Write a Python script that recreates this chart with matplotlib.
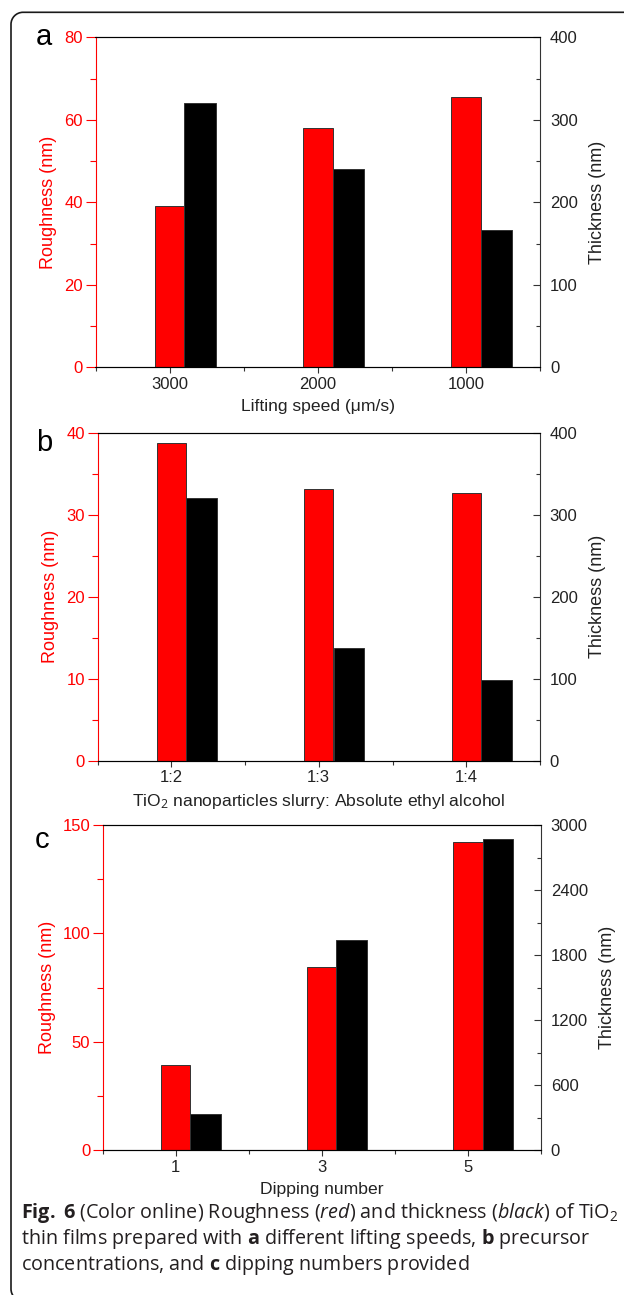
import matplotlib
matplotlib.use("Agg")
import matplotlib.pyplot as plt
import matplotlib.patches as mpatches
import matplotlib.transforms as mtransforms
from matplotlib.path import Path
from matplotlib.ticker import MultipleLocator, FixedLocator

plt.rcParams["font.family"] = ["Liberation Sans", "DejaVu Sans"]
plt.rcParams["mathtext.fontset"] = "custom"
plt.rcParams["mathtext.rm"] = "Open Sans"
plt.rcParams["mathtext.it"] = "Open Sans:italic"
plt.rcParams["mathtext.bf"] = "Open Sans:bold"

# panel a: lifting speed
speeds = ["3000", "2000", "1000"]
rough_a = [39.0, 58.0, 65.5]
thick_a = [320, 240, 167]

# panel b: slurry / ethanol ratio
ratios = ["1:2", "1:3", "1:4"]
rough_b = [38.8, 33.1, 32.7]
thick_b = [320, 138, 98]

# panel c: dipping number
dips = ["1", "3", "5"]
rough_c = [39.3, 84.7, 142.3]
thick_c = [332, 1939, 2874]

W, H = 624, 1295
fig = plt.figure(figsize=(W / 100, H / 100), dpi=100)

RED = "#ff0000"
TXT = "#222222"


def rect(l, t, r, b):
    return [l / W, 1 - b / H, (r - l) / W, (b - t) / H]


def panel(box, cats, rough, thick, rlim, rmaj, rmin, tlim, tmaj, tmin, xlabel):
    ax = fig.add_axes(rect(*box))
    x = list(range(1, len(cats) + 1))
    ax.bar(x, rough, width=0.2, color=RED, edgecolor="#333333", linewidth=0.7, zorder=2)
    ax.set_xlim(0.5, 3.5)
    ax.set_ylim(*rlim)
    ax.set_xticks(x)
    ax.set_xticklabels(cats)
    ax.xaxis.set_minor_locator(FixedLocator([0.5, 1.5, 2.5, 3.5]))
    ax.yaxis.set_major_locator(MultipleLocator(rmaj))
    ax.yaxis.set_minor_locator(MultipleLocator(rmin))
    ax.tick_params(axis="x", which="major", direction="out", length=4, width=0.8,
                   color="#333333", labelsize=12, labelcolor=TXT, pad=3)
    ax.tick_params(axis="x", which="minor", direction="out", length=3, width=0.8, color="#333333")
    ax.tick_params(axis="y", which="major", direction="out", length=7, width=0.8,
                   color=RED, labelsize=12, labelcolor=RED, pad=2)
    ax.tick_params(axis="y", which="minor", direction="out", length=4, width=0.8, color=RED)
    ax.spines["left"].set_color(RED)
    ax.spines["right"].set_visible(False)
    for s in ("top", "bottom"):
        ax.spines[s].set_color("#333333")
    for s in ax.spines.values():
        s.set_linewidth(0.8)
    ax.set_ylabel("Roughness (nm)", color=RED, fontsize=13, labelpad=5)
    ax.set_xlabel(xlabel, color=TXT, fontsize=12.6, labelpad=5)

    ax2 = ax.twinx()
    ax2.bar([v + 0.1 for v in x], thick, width=0.21, align="edge", color="black",
            edgecolor="#333333", linewidth=0.7, zorder=2)
    ax2.set_ylim(*tlim)
    ax2.yaxis.set_major_locator(MultipleLocator(tmaj))
    ax2.yaxis.set_minor_locator(MultipleLocator(tmin))
    ax2.tick_params(axis="y", which="major", direction="in", length=5, width=0.8,
                    color="#333333", labelsize=12, labelcolor=TXT, pad=7)
    ax2.tick_params(axis="y", which="minor", direction="in", length=3, width=0.8, color="#333333")
    ax2.spines["left"].set_visible(False)
    ax2.spines["right"].set_color("#333333")
    for s in ax2.spines.values():
        s.set_linewidth(0.8)
    ax2.set_ylabel("Thickness (nm)", color=TXT, fontsize=13, labelpad=8)
    return ax


pa = panel((95.5, 37.3, 540.4, 367.3), speeds, rough_a, thick_a,
           (0, 80), 20, 10, (0, 400), 100, 50, "Lifting speed (\u03bcm/s)")
pb = panel((97.5, 432.7, 540, 760.7), ratios, rough_b, thick_b,
           (0, 40), 10, 5, (0, 400), 100, 50,
           "TiO$_2$ nanoparticles slurry: Absolute ethyl alcohol")
pc = panel((102.7, 825, 541, 1150.3), dips, rough_c, thick_c,
           (0, 150), 50, 25, (0, 3000), 600, 300, "Dipping number")

# panel letters
for letter, (lx, ly) in zip("abc", [(36, 37), (36, 443), (35, 840)]):
    fig.text(lx / W, 1 - ly / H, letter, fontsize=21, color="black", ha="left", va="center")

# caption
cap = [
    r"$\mathbf{Fig.}$ $\mathbf{6}$ (Color online) Roughness ($\mathit{red}$) and thickness ($\mathit{black}$) of TiO$_2$",
    r"thin films prepared with $\mathbf{a}$ different lifting speeds, $\mathbf{b}$ precursor",
    r"concentrations, and $\mathbf{c}$ dipping numbers provided",
]
for i, line in enumerate(cap):
    fig.text(21 / W, 1 - (1213 + 26 * i) / H, line, fontsize=14.2, family="Open Sans",
             color="#231f20", ha="left", va="center")

# frame: open on the right, rounded at the left corners (pixel coords)
left, top, bottom, r = 11, H - 12.3, -6, 12
k = 0.5523 * r
verts = [(W + 10, top), (left + r, top),
         (left + r - k, top), (left, top - r + k), (left, top - r),
         (left, bottom + r),
         (left, bottom + r - k), (left + r - k, bottom), (left + r, bottom),
         (W + 10, bottom)]
codes = [Path.MOVETO, Path.LINETO,
         Path.CURVE4, Path.CURVE4, Path.CURVE4,
         Path.LINETO,
         Path.CURVE4, Path.CURVE4, Path.CURVE4,
         Path.LINETO]
frame = mpatches.PathPatch(Path(verts, codes), facecolor="none", edgecolor="#1a1a1a",
                           linewidth=1.2, transform=mtransforms.IdentityTransform())
fig.add_artist(frame)

fig.savefig("out.png", dpi=100)
